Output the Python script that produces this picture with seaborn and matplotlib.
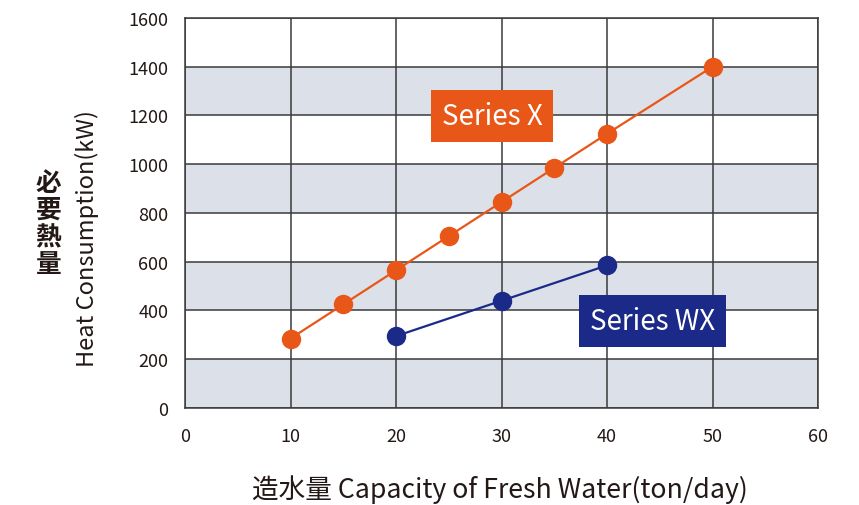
import matplotlib
matplotlib.use("Agg")
import matplotlib.pyplot as plt
import seaborn as sns
import pandas as pd

# Heat consumption vs. fresh-water capacity
x_series_x = [10, 15, 20, 25, 30, 35, 40, 50]
y_series_x = [285, 425, 565, 705, 845, 985, 1125, 1400]
x_series_wx = [20, 30, 40]
y_series_wx = [295, 440, 585]
x_ticks = [0, 10, 20, 30, 40, 50, 60]
y_ticks = [0, 200, 400, 600, 800, 1000, 1200, 1400, 1600]
y_title_cjk = ["必", "要", "熱", "量"]

ORANGE = "#E85718"
NAVY = "#1B2A88"
BAND = "#DCE0E8"
GRID = "#3A3A3A"
TEXT = "#231815"

sns.set_style("white")
plt.rcParams["font.family"] = ["Noto Sans CJK JP", "DejaVu Sans"]

df = pd.concat([
    pd.DataFrame({"cap": x_series_x, "heat": y_series_x, "series": "Series X"}),
    pd.DataFrame({"cap": x_series_wx, "heat": y_series_wx, "series": "Series WX"}),
])

W, H = 859, 506
fig = plt.figure(figsize=(W / 100, H / 100), dpi=100)
ax = fig.add_axes([0.2154, 0.1917, 0.7369, 0.7708])

# alternating horizontal bands
for i in range(len(y_ticks) - 1):
    if i % 2 == 0:
        ax.axhspan(y_ticks[i], y_ticks[i + 1], color=BAND, zorder=0, lw=0)

sns.lineplot(data=df, x="cap", y="heat", hue="series",
             palette={"Series X": ORANGE, "Series WX": NAVY},
             marker="o", markersize=14, markeredgewidth=0, linewidth=1.6,
             legend=False, ax=ax, zorder=3)

ax.set_xlim(0, 60)
ax.set_ylim(0, 1600)
ax.set_xticks(x_ticks)
ax.set_yticks(y_ticks)
ax.grid(True, color=GRID, linewidth=1.1, zorder=1)
ax.set_axisbelow(True)
for s in ax.spines.values():
    s.set_color(GRID)
    s.set_linewidth(1.1)
ax.tick_params(axis="both", length=0, labelsize=13, colors=TEXT)
ax.tick_params(axis="y", pad=12)
ax.tick_params(axis="x", pad=14)
ax.set_xlabel("")
ax.set_ylabel("")

# series labels
ax.text(29.1, 1198, "Series X", ha="center", va="center", fontsize=20,
        color="white", zorder=5,
        bbox=dict(boxstyle="square,pad=0.38", fc=ORANGE, ec="none"))
ax.text(44.3, 357, "Series WX", ha="center", va="center", fontsize=20,
        color="white", zorder=5,
        bbox=dict(boxstyle="square,pad=0.38", fc=NAVY, ec="none"))

# axis titles
fig.text(0.101, 0.528, "Heat Consumption(kW)", rotation=90, ha="center",
         va="center", fontsize=17, color=TEXT)
for k, ch in enumerate(y_title_cjk):
    fig.text(48.5 / W, 1 - (183.5 + 27 * k) / H, ch, ha="center",
             va="center", fontsize=18.5, color=TEXT, fontweight="bold")
fig.text(0.582, 0.032, "造水量 Capacity of Fresh Water(ton/day)", ha="center",
         va="center", fontsize=19.2, color=TEXT)

fig.savefig("out.png", dpi=100)
